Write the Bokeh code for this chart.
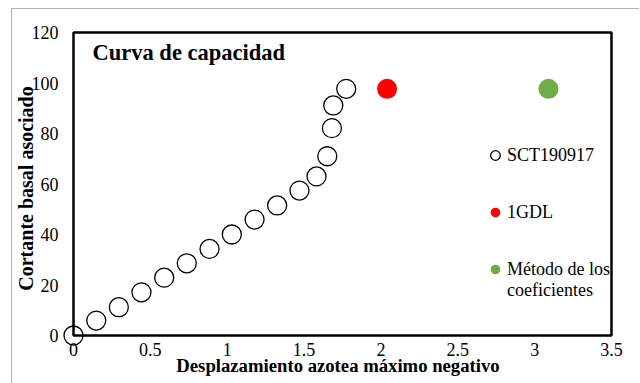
from bokeh.plotting import figure
from bokeh.models import (Legend, LegendItem, Label, FixedTicker, Range1d,
                          BoxAnnotation)
from bokeh.embed import file_html
from bokeh.resources import INLINE

# ---- data ----
sct_x = [0.0, 0.148, 0.295, 0.442, 0.590, 0.737, 0.885, 1.030, 1.178, 1.325,
         1.470, 1.581, 1.651, 1.681, 1.690, 1.774]
sct_y = [0.0, 5.9, 11.2, 17.1, 22.9, 28.6, 34.3, 40.0, 45.9, 51.5,
         57.4, 63.0, 71.0, 82.1, 91.1, 97.7]
gdl_x = [2.04]
gdl_y = [97.7]
coef_x = [3.09]
coef_y = [97.7]

x_min, x_max = 0, 3.5
y_min, y_max = 0, 120
x_ticks = [0, 0.5, 1, 1.5, 2, 2.5, 3, 3.5]
x_tick_labels = ["0", "0.5", "1", "1.5", "2", "2.5", "3", "3.5"]
y_ticks = [0, 20, 40, 60, 80, 100, 120]
y_tick_labels = ["0", "20", "40", "60", "80", "100", "120"]

series_names = ["SCT190917", "1GDL", "Método de los", "coeficientes"]
title_text = "Curva de capacidad"
x_title = "Desplazamiento azotea máximo negativo"
y_title = "Cortante basal asociado"

FONT = "Liberation Serif"

# plot box: 538 x 303 px; the frame is padded so markers at the axes are not clipped
BOX_W, BOX_H = 538, 303
PAD_LB, PAD_TR = 12, 3
xs = (x_max - x_min) / BOX_W
ys = (y_max - y_min) / BOX_H

p = figure(width=628, height=375,
           x_range=Range1d(x_min - PAD_LB * xs, x_max + PAD_TR * xs),
           y_range=Range1d(y_min - PAD_LB * ys, y_max + PAD_TR * ys),
           output_backend="svg", toolbar_location=None,
           min_border_left=50, min_border_right=25,
           min_border_top=21, min_border_bottom=36)
p.styles = {"outline": "1px solid #9a9a9a", "outline-offset": "-1px",
            "margin-left": "11px", "margin-top": "8px"}

p.xgrid.visible = False
p.ygrid.visible = False
p.outline_line_color = None
p.background_fill_color = "white"
p.border_fill_color = "white"

for ax, ticks, labels in ((p.xaxis[0], x_ticks, x_tick_labels),
                          (p.yaxis[0], y_ticks, y_tick_labels)):
    ax.ticker = FixedTicker(ticks=ticks)
    ax.major_label_overrides = {t: l for t, l in zip(ticks, labels)}
    ax.axis_line_color = None
    ax.major_tick_line_color = None
    ax.minor_tick_line_color = None
    ax.major_tick_out = 0
    ax.major_tick_in = 0
    ax.major_label_text_font = FONT
    ax.major_label_text_font_size = "18px"
    ax.major_label_text_color = "black"
    ax.axis_label_text_font = FONT
    ax.axis_label_text_font_style = "bold"
    ax.axis_label_text_color = "black"

p.xaxis[0].major_label_standoff = 7 - PAD_LB
p.xaxis[0].axis_label = x_title
p.xaxis[0].axis_label_text_font_size = "18.7px"
p.xaxis[0].axis_label_standoff = -4
p.yaxis[0].major_label_standoff = 15 - PAD_LB
p.yaxis[0].axis_label = y_title
p.yaxis[0].axis_label_text_font_size = "20px"
p.yaxis[0].axis_label_standoff = -8

r_sct = p.scatter(sct_x, sct_y, size=19, marker="circle",
                  fill_color="white", line_color="black", line_width=1.3)
r_gdl = p.scatter(gdl_x, gdl_y, size=20, marker="circle",
                  fill_color="#ff0000", line_color=None)
r_coef = p.scatter(coef_x, coef_y, size=20, marker="circle",
                   fill_color="#70ad47", line_color=None)
# continuation line of the third legend entry (no visible glyph)
r_blank = p.scatter([], [], size=1, fill_alpha=0, line_alpha=0)

# black plot-area box
box = BoxAnnotation(left=x_min, right=x_max, bottom=y_min, top=y_max,
                    fill_color=None, fill_alpha=0,
                    line_color="black", line_alpha=1.0, line_width=2.5)
p.add_layout(box)

legend_style = dict(margin=0, padding=0, spacing=33,
                    glyph_width=24, glyph_height=24, label_standoff=-2,
                    label_text_font=FONT, label_text_font_size="18px",
                    label_text_color="black",
                    border_line_color=None, background_fill_alpha=0)
legend = Legend(items=[LegendItem(label=series_names[0], renderers=[r_sct]),
                       LegendItem(label=series_names[1], renderers=[r_gdl]),
                       LegendItem(label=series_names[2], renderers=[r_coef])],
                location=(410 + PAD_LB, 54 + PAD_LB), **legend_style)
legend2 = Legend(items=[LegendItem(label=series_names[3], renderers=[r_blank])],
                 location=(410 + PAD_LB, 33 + PAD_LB), **legend_style)
p.add_layout(legend, "center")
p.add_layout(legend2, "center")

title = Label(x=x_min, y=y_max, x_offset=19, y_offset=-20, text=title_text,
              text_font=FONT, text_font_style="bold", text_font_size="22.5px",
              text_baseline="middle", text_align="left", text_color="black")
p.add_layout(title)

open("out.html", "w").write(file_html(p, INLINE))
